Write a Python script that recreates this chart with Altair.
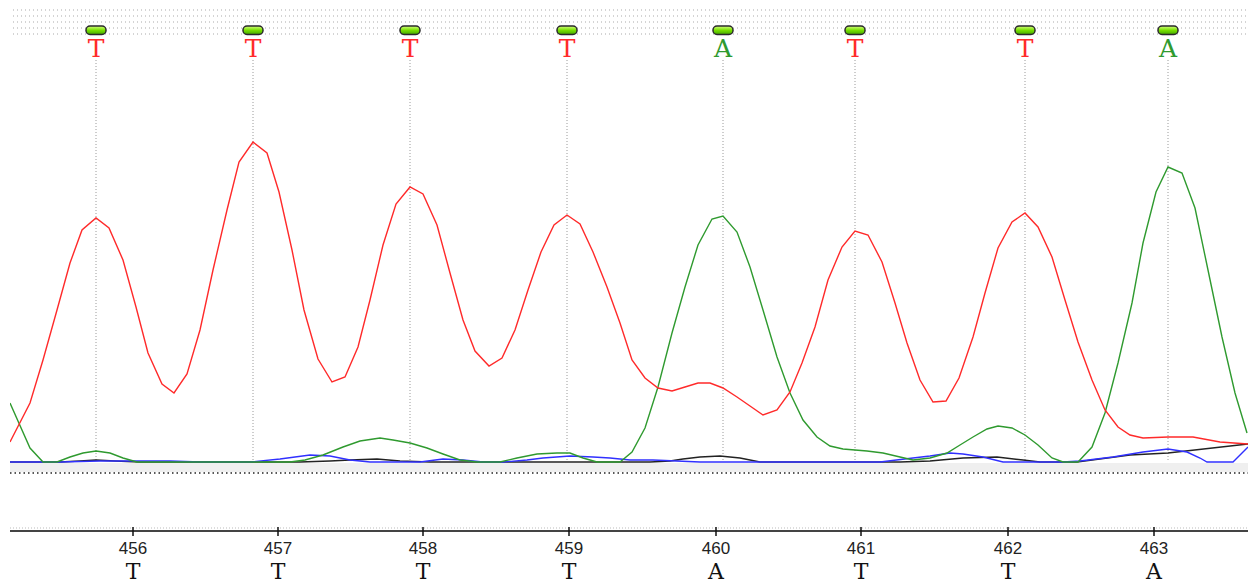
import altair as alt
import pandas as pd

# ---- trace data (scan position, signal) ----
red_x = [10, 30, 43, 57, 70, 82, 96, 109, 123, 136, 148, 162, 174, 187, 200, 213, 227, 239, 253, 267,
         279, 292, 304, 318, 332, 345, 358, 370, 383, 396, 410, 423, 437, 450, 463, 475, 489, 502, 515, 528,
         541, 554, 567, 580, 593, 607, 620, 632, 645, 658, 672, 685, 698, 710, 723, 737, 750, 763, 777, 790,
         802, 815, 828, 842, 855, 868, 882, 895, 907, 920, 933, 946, 959, 973, 985, 998, 1012, 1025, 1038, 1052,
         1065, 1078, 1092, 1105, 1118, 1130, 1143, 1168, 1193, 1220, 1248]
red_y = [20, 59, 102, 152, 199, 232, 244, 234, 202, 155, 109, 78, 69, 88, 132, 192, 252, 300, 320, 309,
         270, 212, 152, 103, 80, 85, 115, 162, 217, 258, 275, 268, 237, 189, 142, 111, 96, 104, 132, 172,
         210, 237, 247, 238, 210, 175, 139, 102, 84, 74, 71, 75, 79, 79, 74, 65, 56, 47, 52, 70,
         99, 135, 182, 215, 231, 227, 200, 159, 119, 82, 60, 61, 84, 125, 169, 214, 240, 249, 235, 205,
         162, 120, 82, 52, 35, 27, 24, 25, 25, 20, 18]

green_x = [10, 30, 43, 57, 70, 83, 96, 110, 123, 137, 290, 305, 323, 343, 360, 380, 393, 410, 427, 443,
           460, 477, 500, 517, 537, 557, 570, 583, 597, 620, 632, 645, 658, 672, 685, 698, 712, 723, 737, 750,
           763, 777, 790, 803, 817, 830, 843, 867, 883, 900, 913, 930, 947, 960, 973, 987, 998, 1012, 1025, 1038,
           1052, 1063, 1078, 1092, 1105, 1118, 1132, 1143, 1156, 1168, 1182, 1195, 1208, 1222, 1235, 1247]
green_y = [59, 14, 0, 0, 5, 9, 11, 9, 4, 0, 0, 2, 7, 15, 21, 24, 22, 19, 14, 8,
           2, 0, 0, 4, 8, 9, 9, 4, 0, 0, 10, 34, 75, 129, 175, 217, 243, 246, 230, 195,
           152, 105, 69, 42, 25, 16, 13, 11, 9, 5, 2, 4, 9, 17, 25, 33, 36, 34, 27, 17,
           4, 0, 0, 15, 49, 99, 159, 219, 270, 295, 289, 254, 192, 125, 69, 29]

blue_x = [10, 60, 100, 140, 170, 200, 250, 280, 310, 330, 350, 370, 393, 420, 443, 463, 483, 503, 527, 543,
          570, 593, 610, 630, 653, 700, 800, 880, 913, 930, 950, 963, 983, 1003, 1030, 1063, 1080, 1113, 1143, 1168,
          1187, 1200, 1207, 1233, 1248]
blue_y = [0, 0, 1, 1, 1, 0, 0, 3, 7, 6, 2, 0, 0, 0, 3, 2, 0, 0, 2, 4,
          6, 5, 4, 2, 2, 0, 0, 0, 4, 6, 9, 8, 5, 0, 0, 0, 1, 5, 10, 13,
          10, 4, 0, 0, 15]

black_x = [10, 60, 80, 96, 115, 140, 300, 330, 350, 377, 400, 430, 650, 670, 683, 700, 720, 740, 760, 900,
           930, 963, 997, 1023, 1040, 1077, 1130, 1168, 1248]
black_y = [0, 0, 1, 2, 1, 0, 0, 1, 2, 3, 1, 0, 0, 1, 3, 5, 6, 4, 0, 0,
           1, 4, 5, 2, 0, 0, 7, 9, 18]

# ---- base calls and position axis ----
peak_scan = [96, 253, 410, 567, 723, 855, 1025, 1168]
called_base = ["T", "T", "T", "T", "A", "T", "T", "A"]
tick_scan = [133, 278, 423, 569, 716, 861, 1008, 1154]
base_number = [456, 457, 458, 459, 460, 461, 462, 463]

W, H = 1238, 584
RED, GREEN, BLUE, BLACK = "#ff2a2a", "#2f9a2f", "#3030ff", "#222222"

xs = alt.Scale(domain=[10, 1248], nice=False, zero=False)
ys = alt.Scale(domain=[-122, 462], nice=False, zero=False)

blank = alt.Data(values=[{"k": 0}])
layers = []

# top dotted guide rows
for yy in [10, 16, 22, 28, 34]:
    layers.append(
        alt.Chart(blank).mark_rule(color="#aaaaaa", strokeDash=[1, 3], strokeWidth=1.2)
        .encode(x=alt.value(3), x2=alt.value(W), y=alt.value(yy))
    )

calls = pd.DataFrame({"scan": peak_scan, "base": called_base})
ticks = pd.DataFrame({"scan": tick_scan, "num": [str(n) for n in base_number], "base": called_base})

# vertical dotted lines at the called peaks
layers.append(
    alt.Chart(calls).mark_rule(color="#9a9a9a", strokeDash=[1, 2], strokeWidth=1)
    .encode(x=alt.X("scan:Q", scale=xs, axis=None), y=alt.value(60), y2=alt.value(462))
)

# gray band under baseline
layers.append(
    alt.Chart(blank).mark_rect(color="#efefef")
    .encode(x=alt.value(0), x2=alt.value(W), y=alt.value(463), y2=alt.value(472))
)
layers.append(
    alt.Chart(blank).mark_rule(color="#222222", strokeDash=[1.5, 3], strokeWidth=1.5)
    .encode(x=alt.value(0), x2=alt.value(W), y=alt.value(473))
)

# traces
for xs_, ys_, col in [(black_x, black_y, BLACK), (blue_x, blue_y, BLUE),
                      (green_x, green_y, GREEN), (red_x, red_y, RED)]:
    df = pd.DataFrame({"scan": xs_, "signal": ys_})
    layers.append(
        alt.Chart(df).mark_line(color=col, strokeWidth=1.4, clip=True)
        .encode(x=alt.X("scan:Q", scale=xs, axis=None),
                y=alt.Y("signal:Q", scale=ys, axis=None))
    )

# markers at top
grad = alt.LinearGradient(
    gradient="linear", x1=0, x2=0, y1=0, y2=1,
    stops=[alt.GradientStop(color="#d8ff80", offset=0),
           alt.GradientStop(color="#77e000", offset=0.5),
           alt.GradientStop(color="#44a800", offset=1)])
layers.append(
    alt.Chart(calls).mark_rect(fill=grad, stroke="#2a2a2a", strokeWidth=1.5, cornerRadius=4,
                               xOffset=-10, x2Offset=10)
    .encode(x=alt.X("scan:Q", scale=xs, axis=None), x2="scan:Q",
            y=alt.value(26), y2=alt.value(34.5))
)

# called letters at top
layers.append(
    alt.Chart(calls).mark_text(font="DejaVu Serif", fontSize=25, baseline="alphabetic", align="center")
    .encode(x=alt.X("scan:Q", scale=xs, axis=None), y=alt.value(57),
            text="base:N",
            color=alt.Color("base:N", scale=alt.Scale(domain=["A", "T"], range=[GREEN, RED]), legend=None))
)

# bottom axis
layers.append(
    alt.Chart(blank).mark_rule(color="#bbbbbb", strokeDash=[1, 2], strokeWidth=1)
    .encode(x=alt.value(0), x2=alt.value(W), y=alt.value(528))
)
layers.append(
    alt.Chart(blank).mark_rule(color="#444444", strokeWidth=2)
    .encode(x=alt.value(0), x2=alt.value(W), y=alt.value(531))
)
layers.append(
    alt.Chart(ticks).mark_rule(color="#111111", strokeWidth=1.5)
    .encode(x=alt.X("scan:Q", scale=xs, axis=None), y=alt.value(527), y2=alt.value(536))
)
layers.append(
    alt.Chart(ticks).mark_text(font="Liberation Sans", fontSize=17, color="#222222", baseline="alphabetic")
    .encode(x=alt.X("scan:Q", scale=xs, axis=None), y=alt.value(554), text="num:N")
)
layers.append(
    alt.Chart(ticks).mark_text(font="DejaVu Serif", fontSize=22, color="#111111",
                               baseline="alphabetic")
    .encode(x=alt.X("scan:Q", scale=xs, axis=None), y=alt.value(578.5), text="base:N")
)

chart = alt.layer(*layers).properties(
    width=W, height=H,
    padding={"left": 10, "right": 0, "top": 0, "bottom": 0},
    autosize=alt.AutoSizeParams(type="none"),
    background="white",
).configure_view(strokeWidth=0)

chart.save("out.html", embed_options={"renderer": "svg", "actions": False})
